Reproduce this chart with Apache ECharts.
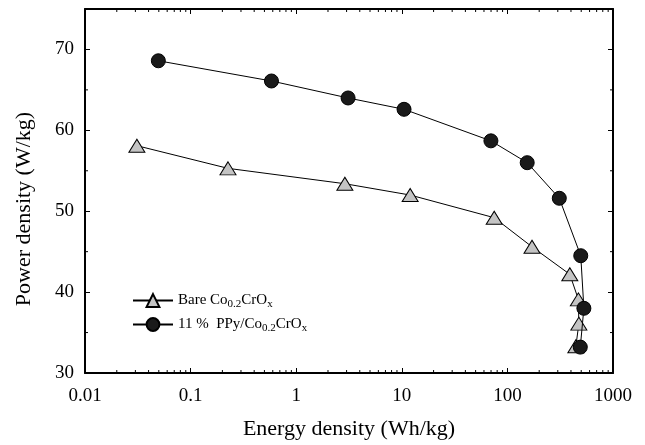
<!DOCTYPE html>
<html>
<head>
<meta charset="utf-8">
<script src="https://cdn.jsdelivr.net/npm/echarts@6/dist/echarts.min.js"></script>
<style>
  html, body { margin: 0; padding: 0; background: #fff; }
  #chart { width: 645px; height: 445px; }
</style>
</head>
<body>
<div id="chart"></div>
<script>
// Energy density (Wh/kg) vs power density (W/kg)
const bareEnergy = [0.031, 0.226, 2.89, 12.0, 75, 171, 390, 470, 475, 445];
const barePower  = [58.1, 55.3, 53.4, 52.0, 49.2, 45.6, 42.2, 39.1, 36.1, 33.3];
const ppyEnergy  = [0.0495, 0.583, 3.1, 10.5, 69.8, 154, 310, 495, 530, 490];
const ppyPower   = [68.6, 66.1, 64.0, 62.6, 58.7, 56.0, 51.6, 44.5, 38.0, 33.2];

const xTicks = [0.01, 0.1, 1, 10, 100, 1000];
const xTickLabels = ['0.01', '0.1', '1', '10', '100', '1000'];
const xMinorTicks = [];
for (let d = 0; d < xTicks.length - 1; d++) {
  for (let m = 2; m <= 9; m++) xMinorTicks.push(+(xTicks[d] * m).toPrecision(3));
}
const yTicks = [30, 40, 50, 60, 70];
const yMinorTicks = [35, 45, 55, 65];

const seriesNames = ['Bare Co0.2CrOx', '11 %  PPy/Co0.2CrOx'];

const FONT = '"Liberation Serif", "Times New Roman", serif';
const X_MIN = 0.01, X_MAX = 1000, Y_MIN = 30, Y_MAX = 75;

function pairs(xs, ys) { return xs.map((x, i) => [x, ys[i]]); }

function xLabel(v) {
  for (let i = 0; i < xTicks.length; i++) {
    if (Math.abs(v - xTicks[i]) / xTicks[i] < 1e-6) return xTickLabels[i];
  }
  return '';
}

const chart = echarts.init(document.getElementById('chart'), null, { renderer: 'canvas' });

const axisCommon = {
  splitLine: { show: false },
  axisLine: { show: true, lineStyle: { color: '#000', width: 2 } },
  axisTick: { show: true, inside: true, length: 5, lineStyle: { color: '#000', width: 1 } }
};

chart.setOption({
  backgroundColor: '#fff',
  animation: false,
  grid: { left: 85, right: 32, top: 9, bottom: 68, containLabel: false },
  xAxis: [
    Object.assign({}, axisCommon, {
      type: 'log', logBase: 10, min: X_MIN, max: X_MAX, position: 'bottom',
      axisLabel: { show: true, margin: 14, color: '#000', fontFamily: FONT, fontSize: 19, formatter: xLabel },
      name: 'Energy density (Wh/kg)', nameLocation: 'middle', nameGap: 45,
      nameTextStyle: { fontFamily: FONT, fontSize: 22, color: '#000' }
    }),
    Object.assign({}, axisCommon, {
      type: 'log', logBase: 10, min: X_MIN, max: X_MAX, position: 'top',
      axisLabel: { show: false }
    })
  ],
  yAxis: [
    Object.assign({}, axisCommon, {
      type: 'value', min: Y_MIN, max: Y_MAX, interval: 10, position: 'left',
      axisLabel: {
        show: true, margin: 11, color: '#000', fontFamily: FONT, fontSize: 19,
        formatter: v => (yTicks.indexOf(v) >= 0 ? String(v) : '')
      }
    }),
    Object.assign({}, axisCommon, {
      type: 'value', min: Y_MIN, max: Y_MAX, interval: 10, position: 'right',
      axisLabel: { show: false }
    })
  ],
  legend: {
    data: seriesNames,
    orient: 'vertical',
    left: 127, top: 286,
    itemWidth: 40, itemHeight: 16, itemGap: 5,
    textStyle: {
      color: '#000', fontFamily: FONT, fontSize: 15,
      rich: {
        n: { fontFamily: FONT, fontSize: 15, color: '#000', lineHeight: 18 },
        s: { fontFamily: FONT, fontSize: 11, color: '#000', lineHeight: 18, padding: [8, 0, 0, 0] }
      }
    },
    formatter: function (name) {
      if (name === seriesNames[0]) return '{n|Bare Co}{s|0.2}{n|CrO}{s|x}';
      return '{n|11 %  PPy/Co}{s|0.2}{n|CrO}{s|x}';
    }
  },
  graphic: [{
    type: 'text', x: 24, y: 209, rotation: Math.PI / 2,
    style: {
      text: 'Power density (W/kg)', fontFamily: FONT, fontSize: 22, fill: '#000',
      align: 'center', verticalAlign: 'middle'
    }
  }],
  series: [
    {
      name: seriesNames[0], type: 'line', data: pairs(bareEnergy, barePower),
      symbol: 'triangle', symbolSize: [16, 13],
      lineStyle: { color: '#000', width: 1 },
      itemStyle: { color: '#c4c4c4', borderColor: '#000', borderWidth: 1 },
      z: 3
    },
    {
      name: seriesNames[1], type: 'line', data: pairs(ppyEnergy, ppyPower),
      symbol: 'circle', symbolSize: 14,
      lineStyle: { color: '#000', width: 1 },
      itemStyle: { color: '#1a1a1a', borderColor: '#000', borderWidth: 1 },
      z: 4
    },
    {
      // minor ticks along the log energy axis (bottom and top frame)
      name: 'xMinor', type: 'custom', silent: true, z: 2,
      data: xMinorTicks.map(v => [v, Y_MIN]),
      renderItem: function (params, api) {
        const v = api.value(0);
        const b = api.coord([v, Y_MIN]);
        const t = api.coord([v, Y_MAX]);
        return {
          type: 'group', children: [
            { type: 'line', shape: { x1: b[0], y1: b[1], x2: b[0], y2: b[1] - 3 }, style: { stroke: '#000', lineWidth: 1 } },
            { type: 'line', shape: { x1: t[0], y1: t[1], x2: t[0], y2: t[1] + 3 }, style: { stroke: '#000', lineWidth: 1 } }
          ]
        };
      }
    },
    {
      // minor ticks along the power axis (left and right frame)
      name: 'yMinor', type: 'custom', silent: true, z: 2,
      data: yMinorTicks.map(v => [X_MIN, v]),
      renderItem: function (params, api) {
        const v = api.value(1);
        const l = api.coord([X_MIN, v]);
        const r = api.coord([X_MAX, v]);
        return {
          type: 'group', children: [
            { type: 'line', shape: { x1: l[0], y1: l[1], x2: l[0] + 3, y2: l[1] }, style: { stroke: '#000', lineWidth: 1 } },
            { type: 'line', shape: { x1: r[0], y1: r[1], x2: r[0] - 3, y2: r[1] }, style: { stroke: '#000', lineWidth: 1 } }
          ]
        };
      }
    }
  ]
});
</script>
</body>
</html>
